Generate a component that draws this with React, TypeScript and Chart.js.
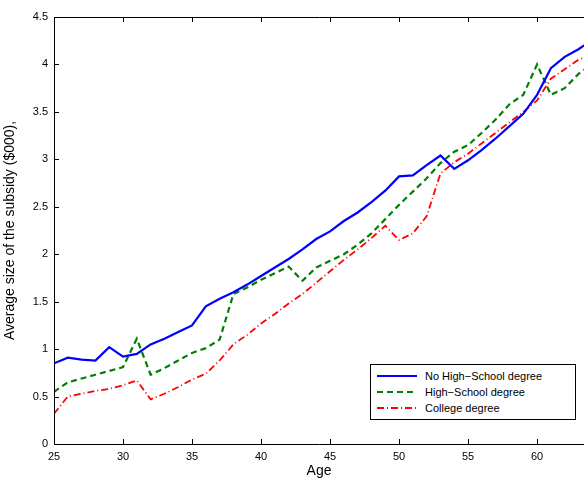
import { useEffect, useRef } from 'react'
import { Chart, registerables } from 'chart.js'

Chart.register(...registerables)

const ages = [25, 26, 27, 28, 29, 30, 31, 32, 33, 34, 35, 36, 37, 38, 39, 40, 41, 42, 43, 44, 45, 46, 47, 48, 49, 50, 51, 52, 53, 54, 55, 56, 57, 58, 59, 60, 61, 62, 63, 64]
const noHighSchool = [0.85, 0.91, 0.89, 0.88, 1.02, 0.92, 0.95, 1.05, 1.11, 1.18, 1.25, 1.45, 1.53, 1.6, 1.68, 1.77, 1.86, 1.95, 2.05, 2.16, 2.24, 2.35, 2.44, 2.55, 2.67, 2.82, 2.83, 2.94, 3.04, 2.9, 2.99, 3.1, 3.22, 3.35, 3.48, 3.68, 3.96, 4.08, 4.16, 4.26]
const highSchool = [0.55, 0.65, 0.69, 0.73, 0.77, 0.81, 1.11, 0.73, 0.8, 0.88, 0.96, 1.01, 1.1, 1.58, 1.65, 1.73, 1.8, 1.87, 1.72, 1.86, 1.93, 2.0, 2.1, 2.22, 2.37, 2.52, 2.66, 2.8, 2.96, 3.08, 3.15, 3.28, 3.42, 3.58, 3.68, 4.0, 3.68, 3.75, 3.9, 4.0]
const college = [0.32, 0.5, 0.53, 0.56, 0.58, 0.62, 0.67, 0.47, 0.53, 0.6, 0.68, 0.74, 0.88, 1.05, 1.15, 1.27, 1.37, 1.48, 1.58, 1.7, 1.82, 1.94, 2.05, 2.17, 2.3, 2.15, 2.22, 2.4, 2.85, 2.97, 3.06, 3.17, 3.28, 3.39, 3.5, 3.62, 3.85, 3.95, 4.05, 4.1]
const xTicks = [25, 30, 35, 40, 45, 50, 55, 60]
const yTicks = [0, 0.5, 1, 1.5, 2, 2.5, 3, 3.5, 4, 4.5]

const legendItems = [
  { label: 'No High\u2212School degree', color: '#0000ff', dash: 'none' },
  { label: 'High\u2212School degree', color: '#008000', dash: '6,4' },
  { label: 'College degree', color: '#ff0000', dash: '7,3,1,3' },
]

const tickMarks = {
  id: 'tickMarks',
  afterDraw(chart: Chart) {
    const { ctx, chartArea: a, scales } = chart
    ctx.save()
    ctx.strokeStyle = '#000'
    ctx.lineWidth = 1
    ctx.beginPath()
    for (const t of xTicks) {
      const x = Math.round(scales.x.getPixelForValue(t)) + 0.5
      ctx.moveTo(x, a.bottom); ctx.lineTo(x, a.bottom - 5)
      ctx.moveTo(x, a.top); ctx.lineTo(x, a.top + 5)
    }
    for (const t of yTicks) {
      const y = Math.round(scales.y.getPixelForValue(t)) + 0.5
      ctx.moveTo(a.left, y); ctx.lineTo(a.left + 5, y)
    }
    ctx.rect(a.left + 0.5, a.top + 0.5, a.right - a.left + 5, a.bottom - a.top)
    ctx.stroke()
    ctx.restore()
  },
}

export default function App() {
  const chartRef = useRef<HTMLCanvasElement>(null)
  const chartInstance = useRef<Chart | null>(null)

  useEffect(() => {
    document.body.style.margin = '0'
    if (!chartRef.current) return
    if (chartInstance.current) chartInstance.current.destroy()
    const ctx = chartRef.current.getContext('2d')
    if (!ctx) return

    const toPts = (vals: number[]) => ages.map((a, i) => ({ x: a, y: vals[i] }))
    const font = { family: 'Liberation Sans, Arial, sans-serif', size: 11 }

    chartInstance.current = new Chart(ctx, {
      type: 'line',
      data: {
        datasets: [
          { label: 'No High-School degree', data: toPts(noHighSchool), borderColor: '#0000ff', borderWidth: 2.2 },
          { label: 'High-School degree', data: toPts(highSchool), borderColor: '#008000', borderWidth: 2.2, borderDash: [6, 4] },
          { label: 'College degree', data: toPts(college), borderColor: '#ff0000', borderWidth: 1.8, borderDash: [7, 3, 1, 3] },
        ],
      },
      options: {
        animation: false,
        responsive: false,
        layout: { padding: { top: 17, right: 0, bottom: 0, left: 0 } },
        elements: { point: { radius: 0 }, line: { tension: 0 } },
        plugins: { legend: { display: false }, tooltip: { enabled: false } },
        scales: {
          x: {
            type: 'linear',
            min: 25,
            max: 63.4,
            afterBuildTicks: (s) => { s.ticks = xTicks.map((v) => ({ value: v })) },
            afterFit: (s) => { s.height = 36 },
            grid: { display: false, drawTicks: false },
            border: { display: false },
            ticks: { color: '#000', font, padding: 6, maxRotation: 0 },
            title: { display: true, text: 'Age', color: '#000', font: { ...font, size: 14 }, padding: 0 },
          },
          y: {
            min: 0,
            max: 4.5,
            afterBuildTicks: (s) => { s.ticks = yTicks.map((v) => ({ value: v })) },
            afterFit: (s) => { s.width = 54 },
            grid: { display: false, drawTicks: false },
            border: { display: false },
            ticks: { color: '#000', font, padding: 6, callback: (v) => String(v) },
            title: { display: true, text: 'Average size of the subsidy ($000),', color: '#000', font: { ...font, size: 14 }, padding: 2 },
          },
        },
      },
      plugins: [tickMarks],
    })

    return () => {
      if (chartInstance.current) chartInstance.current.destroy()
    }
  }, [])

  return (
    <div style={{ position: 'relative', width: 584, height: 480 }}>
      <canvas ref={chartRef} width={584} height={480} />
      <div
        style={{
          position: 'absolute', left: 370, top: 364, width: 206, height: 56,
          border: '1px solid #000', background: '#fff',
          fontFamily: 'Liberation Sans, Arial, sans-serif', fontSize: 11, boxSizing: 'border-box',
          padding: '3px 0 0 6px',
        }}
      >
        {legendItems.map((it) => (
          <div key={it.label} style={{ display: 'flex', alignItems: 'center', height: 16 }}>
            <svg width={40} height={8} style={{ marginRight: 8 }}>
              <line x1={0} y1={4} x2={40} y2={4} stroke={it.color} strokeWidth={2} strokeDasharray={it.dash} />
            </svg>
            <span>{it.label}</span>
          </div>
        ))}
      </div>
    </div>
  )
}
